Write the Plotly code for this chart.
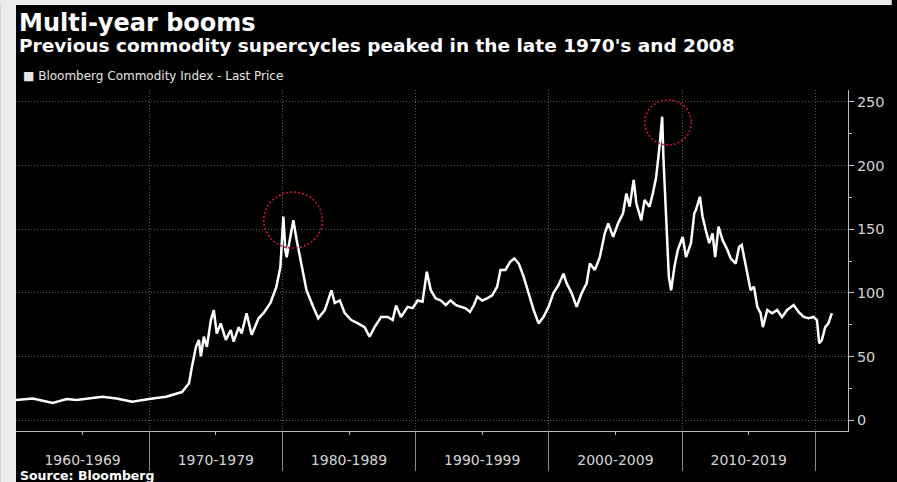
import plotly.graph_objects as go

# ---------------- data ----------------
years = [
    1960.0, 1961.27, 1962.76, 1963.81, 1964.55, 1966.49, 1967.54, 1968.73, 1970.0,
    1971.27, 1972.46, 1972.99, 1973.21, 1973.51, 1973.73, 1973.88, 1974.10, 1974.33,
    1974.63, 1974.85, 1975.07, 1975.37, 1975.75, 1976.12, 1976.34, 1976.72, 1976.94,
    1977.31, 1977.69, 1978.21, 1978.58, 1979.10, 1979.55, 1979.85, 1980.07, 1980.22,
    1980.32, 1980.82, 1981.07, 1981.44, 1981.81, 1982.31, 1982.69, 1983.19, 1983.68,
    1983.93, 1984.31, 1984.68, 1985.17, 1985.67, 1986.17, 1986.54, 1986.92, 1987.41,
    1987.91, 1988.28, 1988.53, 1988.90, 1989.40, 1989.78, 1990.15, 1990.52, 1990.84,
    1991.14, 1991.51, 1991.89, 1992.26, 1992.63, 1993.01, 1993.38, 1993.75, 1994.08,
    1994.38, 1994.63, 1995.00, 1995.37, 1995.75, 1996.12, 1996.37, 1996.74, 1997.11,
    1997.41, 1997.74, 1998.11, 1998.49, 1998.86, 1999.23, 1999.60, 1999.98, 2000.35,
    2000.72, 2001.10, 2001.34, 2001.72, 2002.09, 2002.46, 2002.84, 2003.08, 2003.46,
    2003.83, 2004.20, 2004.46, 2004.83, 2005.20, 2005.57, 2005.82, 2006.07, 2006.37,
    2006.57, 2006.94, 2007.19, 2007.56, 2007.81, 2008.06, 2008.31, 2008.51, 2008.60,
    2008.75, 2008.86, 2009.01, 2009.18, 2009.43, 2009.68, 2010.05, 2010.30, 2010.67,
    2010.92, 2011.04, 2011.34, 2011.54, 2011.79, 2012.04, 2012.29, 2012.49, 2012.74,
    2013.04, 2013.41, 2013.66, 2014.03, 2014.28, 2014.48, 2014.65, 2014.90, 2015.15,
    2015.40, 2015.65, 2015.90, 2016.07, 2016.40, 2016.77, 2017.14, 2017.51, 2017.89,
    2018.38, 2018.75, 2019.13, 2019.50, 2019.87, 2020.13, 2020.30, 2020.50, 2020.75,
    2020.99, 2021.25,
]
values = [
    15.7, 17.0, 13.5, 16.5, 15.7, 18.3, 17.0, 14.4, 16.5,
    18.3, 22.0, 29.0, 42.0, 57.6, 63.0, 50.0, 65.5, 57.6,
    78.6, 86.5, 68.0, 76.0, 63.0, 70.8, 61.6, 73.0, 68.0,
    84.0, 67.0, 80.0, 84.0, 92.0, 104.8, 120.5, 160.0, 133.6,
    128.0, 157.0, 141.5, 120.5, 102.0, 89.0, 80.0, 86.5, 102.0,
    92.0, 94.0, 84.0, 78.6, 76.0, 73.0, 65.5, 73.0, 81.0,
    81.0, 78.6, 90.0, 81.0, 89.0, 88.0, 94.0, 93.0, 116.6,
    102.0, 95.6, 94.0, 90.4, 94.0, 90.4, 89.0, 87.8, 85.0,
    90.4, 97.0, 94.0, 95.6, 98.0, 104.8, 118.0, 118.0, 124.5,
    127.0, 123.0, 112.7, 99.6, 86.5, 76.0, 81.0, 89.0, 100.0,
    106.0, 115.0, 107.5, 99.6, 89.0, 99.6, 107.5, 123.0, 118.0,
    128.0, 146.8, 154.6, 144.0, 154.6, 162.5, 178.0, 167.7, 188.7,
    170.4, 157.0, 173.0, 167.7, 178.0, 191.0, 215.0, 238.4, 207.0,
    167.7, 139.0, 112.7, 102.0, 120.5, 133.6, 144.0, 128.0, 139.0,
    162.5, 165.0, 175.5, 160.0, 149.0, 139.0, 146.8, 128.0, 152.0,
    141.5, 133.6, 127.0, 123.0, 136.0, 137.6, 128.0, 115.0, 102.0,
    104.8, 89.0, 84.0, 73.0, 86.5, 84.0, 86.5, 81.0, 86.5,
    90.4, 85.0, 81.0, 80.0, 81.0, 78.6, 60.3, 63.0, 73.0,
    76.0, 84.0,
]

decade_starts = [1960, 1970, 1980, 1990, 2000, 2010]
decade_labels = ["1960-1969", "1970-1979", "1980-1989", "1990-1999",
                 "2000-2009", "2010-2019"]
decade_bounds = [1970, 1980, 1990, 2000, 2010, 2020]
y_ticks = [0, 50, 100, 150, 200, 250]
y_minor = [25, 75, 125, 175, 225]

# ---------------- layout helpers ----------------
W, H = 897, 482
L, R, T, B = 16, 44, 90, 51
PW, PH = W - L - R, H - T - B


def px_x(p):
    return (p - L) / PW


def px_y(p):
    return (H - B - p) / PH


fig = go.Figure()
fig.add_trace(go.Scatter(
    x=years, y=values, mode="lines",
    line=dict(color="white", width=2.5),
    hoverinfo="skip", showlegend=False,
))

grid_col = "#5a5a5a"
axis_col = "#bdbdbd"
grid_dash = "1px,2px"

fig.update_layout(
    width=W, height=H, autosize=False,
    paper_bgcolor="black", plot_bgcolor="black",
    margin=dict(l=L, r=R, t=T, b=B, pad=0),
    font=dict(family="DejaVu Sans", color="#d4d4d4"),
    showlegend=False,
    xaxis=dict(
        range=[1960, 2022.46],
        tickmode="array",
        tickvals=[d + 5 for d in decade_starts],
        ticktext=decade_labels,
        ticks="outside", ticklen=3, tickwidth=1, tickcolor=axis_col,
        tickfont=dict(size=14, color="#d4d4d4"),
        ticklabelstandoff=13,
        showgrid=False, zeroline=False,
        showline=True, linecolor=axis_col, linewidth=1,
        minor=dict(
            tickmode="array", tickvals=decade_bounds,
            ticks="outside", ticklen=39, tickwidth=1, tickcolor="#8a8a8a",
            showgrid=True, gridcolor=grid_col, griddash=grid_dash, gridwidth=1,
        ),
    ),
    yaxis=dict(
        side="right",
        range=[-8.6, 259.4],
        tickmode="array", tickvals=y_ticks,
        ticks="outside", ticklen=5, tickwidth=1, tickcolor=axis_col,
        tickfont=dict(size=14.5, color="#d4d4d4"),
        showgrid=True, gridcolor=grid_col, griddash=grid_dash, gridwidth=1,
        zeroline=False,
        showline=True, linecolor=axis_col, linewidth=1,
        minor=dict(tickmode="array", tickvals=y_minor, ticks="outside",
                   ticklen=3, tickcolor=axis_col, showgrid=False),
    ),
)

# light grey frame strips (left and top)
frame_col = "#ebebeb"
fig.add_shape(type="rect", xref="paper", yref="paper", layer="above",
              x0=px_x(0), x1=px_x(L), y0=px_y(H), y1=px_y(0),
              fillcolor=frame_col, line=dict(width=0))
fig.add_shape(type="rect", xref="paper", yref="paper", layer="above",
              x0=px_x(0), x1=px_x(W), y0=px_y(5), y1=px_y(0),
              fillcolor=frame_col, line=dict(width=0))

# dotted red circles around the two peaks
circle_col = "#c8143c"
circle_dash = "2px,2px"
fig.add_shape(type="circle", xref="x", yref="y",
              x0=1978.6, x1=1983.0, y0=135.2, y1=179.2,
              line=dict(color=circle_col, width=1.6, dash=circle_dash))
fig.add_shape(type="circle", xref="x", yref="y",
              x0=2007.2, x1=2010.7, y0=216.2, y1=251.6,
              line=dict(color=circle_col, width=1.6, dash=circle_dash))

# texts
fig.add_annotation(xref="paper", yref="paper", x=px_x(17), y=px_y(23),
                   xanchor="left", yanchor="middle", showarrow=False,
                   text="<b>Multi-year booms</b>",
                   font=dict(size=24, color="white", family="DejaVu Sans"))
fig.add_annotation(xref="paper", yref="paper", x=px_x(17), y=px_y(46),
                   xanchor="left", yanchor="middle", showarrow=False,
                   text="<b>Previous commodity supercycles peaked in the late 1970's and 2008</b>",
                   font=dict(size=18.5, color="white", family="DejaVu Sans"))
fig.add_annotation(xref="paper", yref="paper", x=px_x(21), y=px_y(76),
                   xanchor="left", yanchor="middle", showarrow=False,
                   text="■ Bloomberg Commodity Index - Last Price",
                   font=dict(size=12, color="#e6e6e6", family="DejaVu Sans"))
fig.add_annotation(xref="paper", yref="paper", x=px_x(18), y=px_y(476),
                   xanchor="left", yanchor="middle", showarrow=False,
                   text="<b>Source: Bloomberg</b>",
                   font=dict(size=12.5, color="white", family="DejaVu Sans"))

fig.write_html(
    "out.html",
    config={"displayModeBar": False},
    post_script="document.body.style.margin='0px';"
                "document.body.style.overflow='hidden';",
)
